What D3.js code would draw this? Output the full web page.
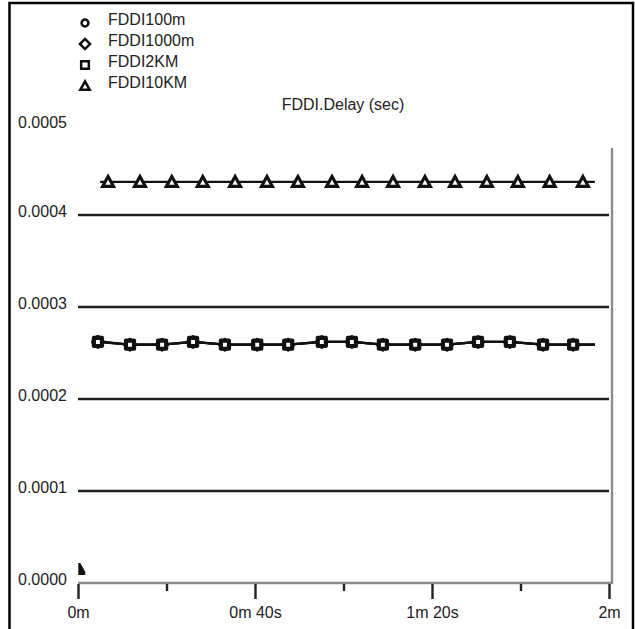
<!DOCTYPE html>
<html>
<head>
<meta charset="utf-8">
<script src="https://cdn.jsdelivr.net/npm/d3@7"></script>
<style>
  body { margin: 0; background: #fff; }
  text { font-family: "Liberation Sans", Arial, sans-serif; fill: #222; }
</style>
</head>
<body>
<div id="chart"></div>
<script>
// series names, in legend order
const seriesNames = ["FDDI100m", "FDDI1000m", "FDDI2KM", "FDDI10KM"];
const symbols = ["circle", "diamond", "square", "triangle"];

// sample times (seconds) of the marked points
const timesShort = [4.5, 11.75, 19.0, 26.0, 33.2, 40.5, 47.5, 55.1, 61.9, 68.9, 76.2, 83.4, 90.4, 97.6, 105.1, 111.9];
const times10km = [6.8, 14.0, 21.2, 28.2, 35.5, 42.7, 49.7, 57.4, 64.2, 71.2, 78.4, 85.2, 92.4, 99.4, 106.6, 114.1];

// delay values (sec)
const delay100m  = [0.000263, 0.000259, 0.000259, 0.000262, 0.000259, 0.000259, 0.000259, 0.000262, 0.000262, 0.000259, 0.000259, 0.000259, 0.000262, 0.000262, 0.000259, 0.000259];
const delay1000m = [0.000262, 0.000259, 0.000259, 0.000262, 0.000259, 0.000259, 0.000259, 0.000262, 0.000262, 0.000259, 0.000259, 0.000259, 0.000262, 0.000262, 0.000259, 0.000259];
const delay2km   = [0.000262, 0.000259, 0.000259, 0.000262, 0.000259, 0.000259, 0.000259, 0.000262, 0.000262, 0.000259, 0.000259, 0.000259, 0.000262, 0.000262, 0.000259, 0.000259];
const delay10km  = [0.000436, 0.000436, 0.000436, 0.000436, 0.000436, 0.000436, 0.000436, 0.000436, 0.000436, 0.000436, 0.000436, 0.000436, 0.000436, 0.000436, 0.000436, 0.000436];

// where each trace starts / ends (seconds)
const traceStart = [4.5, 4.5, 4.5, 5.0];
const traceEnd = [116.8, 116.8, 116.8, 116.8];

// start-up sample near the origin
const startTime = [0.3];
const startDelay = [0.000013];

const xTicksMajor = [0, 40, 80, 120];
const xTicksMinor = [20, 60, 100];

const width = 635, height = 629;
const svg = d3.select("#chart").append("svg")
  .attr("width", width)
  .attr("height", height);

// outer frame
svg.append("rect")
  .attr("x", 9.5).attr("y", 3)
  .attr("width", 623.5).attr("height", 660)
  .attr("fill", "none")
  .attr("stroke", "#000")
  .attr("stroke-width", 2.5);

const x = d3.scaleLinear().domain([0, 120]).range([78, 609]);
const y = d3.scaleLinear().domain([0, 0.0005]).range([583, 123]);

const yTicks = y.ticks(5);

// gridlines
svg.append("g")
  .selectAll("line")
  .data(yTicks.filter(d => d > 0 && d < 0.0005))
  .enter().append("line")
    .attr("x1", x(0)).attr("x2", x(120))
    .attr("y1", d => y(d)).attr("y2", d => y(d))
    .attr("stroke", "#1e1e1e")
    .attr("stroke-width", 2.4);

// bottom line and right edge
svg.append("line")
  .attr("x1", x(0)).attr("x2", x(120) + 3)
  .attr("y1", y(0)).attr("y2", y(0))
  .attr("stroke", "#8c8c8c").attr("stroke-width", 2.4);
svg.append("line")
  .attr("x1", x(120) + 3).attr("x2", x(120) + 3)
  .attr("y1", 148).attr("y2", y(0) + 1)
  .attr("stroke", "#8c8c8c").attr("stroke-width", 2.4);

// y labels, left aligned
svg.append("g")
  .selectAll("text")
  .data(yTicks)
  .enter().append("text")
    .attr("x", 18)
    .attr("y", d => y(d) - (d < 0.0005 ? 2.5 : -1))
    .attr("dominant-baseline", "middle")
    .style("font-size", "16px")
    .text(d3.format(".4f"));

// x axis
const fmtTime = t => {
  const m = Math.floor(t / 60), s = t % 60;
  return s ? `${m}m ${s}s` : `${m}m`;
};

const xMajor = svg.append("g")
  .attr("transform", `translate(0,${y(0) + 1})`)
  .call(d3.axisBottom(x).tickValues(xTicksMajor).tickSize(15).tickPadding(8).tickFormat(fmtTime));
const xMinor = svg.append("g")
  .attr("transform", `translate(0,${y(0) + 1})`)
  .call(d3.axisBottom(x).tickValues(xTicksMinor).tickSize(7).tickFormat(""));

[xMajor, xMinor].forEach(g => {
  g.select(".domain").remove();
  g.selectAll(".tick line").attr("stroke", "#222").attr("stroke-width", 2.4);
  g.selectAll(".tick text")
    .style("font-size", "16px")
    .style("font-family", "Liberation Sans, Arial, sans-serif")
    .attr("fill", "#222");
});

// title
svg.append("text")
  .attr("x", 343)
  .attr("y", 106)
  .attr("text-anchor", "middle")
  .attr("dominant-baseline", "middle")
  .style("font-size", "16px")
  .text("FDDI.Delay (sec)");

// marker shapes
function symbolPath(kind, s) {
  if (kind === "circle") return d3.arc()({ innerRadius: 0, outerRadius: 4 * s, startAngle: 0, endAngle: 2 * Math.PI });
  if (kind === "diamond") return `M0,${-6 * s}L${6 * s},0L0,${6 * s}L${-6 * s},0Z`;
  if (kind === "square") return `M${-4.5 * s},${-4.5 * s}h${9 * s}v${9 * s}h${-9 * s}Z`;
  return `M0,${-5.5 * s}L${5.5 * s},${4.5 * s}L${-5.5 * s},${4.5 * s}Z`;
}

const series = [
  { name: seriesNames[0], symbol: symbols[0], time: timesShort, value: delay100m, from: traceStart[0], to: traceEnd[0] },
  { name: seriesNames[1], symbol: symbols[1], time: timesShort, value: delay1000m, from: traceStart[1], to: traceEnd[1] },
  { name: seriesNames[2], symbol: symbols[2], time: timesShort, value: delay2km, from: traceStart[2], to: traceEnd[2] },
  { name: seriesNames[3], symbol: symbols[3], time: times10km, value: delay10km, from: traceStart[3], to: traceEnd[3] }
];

const line = d3.line().x(d => x(d[0])).y(d => y(d[1]));

series.forEach(s => {
  const pts = s.time.map((t, i) => [t, s.value[i]]);
  const trace = [[s.from, s.value[0]], ...pts, [s.to, s.value[s.value.length - 1]]];
  svg.append("path")
    .datum(trace)
    .attr("d", line)
    .attr("fill", "none")
    .attr("stroke", "#111")
    .attr("stroke-width", 2.2);
});

series.forEach(s => {
  const pts = s.time.map((t, i) => [t, s.value[i]]);
  const tri = s.symbol === "triangle";
  const scale = tri ? 1 : (s.symbol === "diamond" ? 0.8 : 0.9);
  svg.append("g")
    .selectAll("path")
    .data(pts)
    .enter().append("path")
      .attr("transform", d => `translate(${x(d[0])},${y(d[1])})`)
      .attr("d", symbolPath(s.symbol, scale))
      .attr("fill", "#fff")
      .attr("stroke", "#111")
      .attr("stroke-linejoin", tri ? "miter" : "round")
      .attr("stroke-width", tri ? 3.1 : 4.2);
});

// start-up sample, clipped at the left of the plot
svg.append("clipPath").attr("id", "plotClip")
  .append("rect").attr("x", x(0)).attr("y", 0).attr("width", 600).attr("height", y(0) - 2);
svg.append("g").attr("clip-path", "url(#plotClip)")
  .selectAll("path")
  .data(startTime.map((t, i) => [t, startDelay[i]]))
  .enter().append("path")
    .attr("transform", d => `translate(${x(d[0])},${y(d[1])})`)
    .attr("d", "M-1,-8L1,-8L6,1L6,4L-1,4Z")
    .attr("fill", "#111");

// legend
const legend = svg.append("g");
const rows = legend.selectAll("g")
  .data(series)
  .enter().append("g")
    .attr("transform", (d, i) => `translate(0,${21 + i * 21})`);
rows.append("path")
  .attr("transform", "translate(85,2)")
  .attr("d", d => symbolPath(d.symbol, 0.85))
  .attr("fill", "#fff")
  .attr("stroke", "#111")
  .attr("stroke-width", 2.5);
rows.append("text")
  .attr("x", 108)
  .attr("y", 0)
  .attr("dominant-baseline", "middle")
  .style("font-size", "16px")
  .text(d => d.name);
</script>
</body>
</html>
